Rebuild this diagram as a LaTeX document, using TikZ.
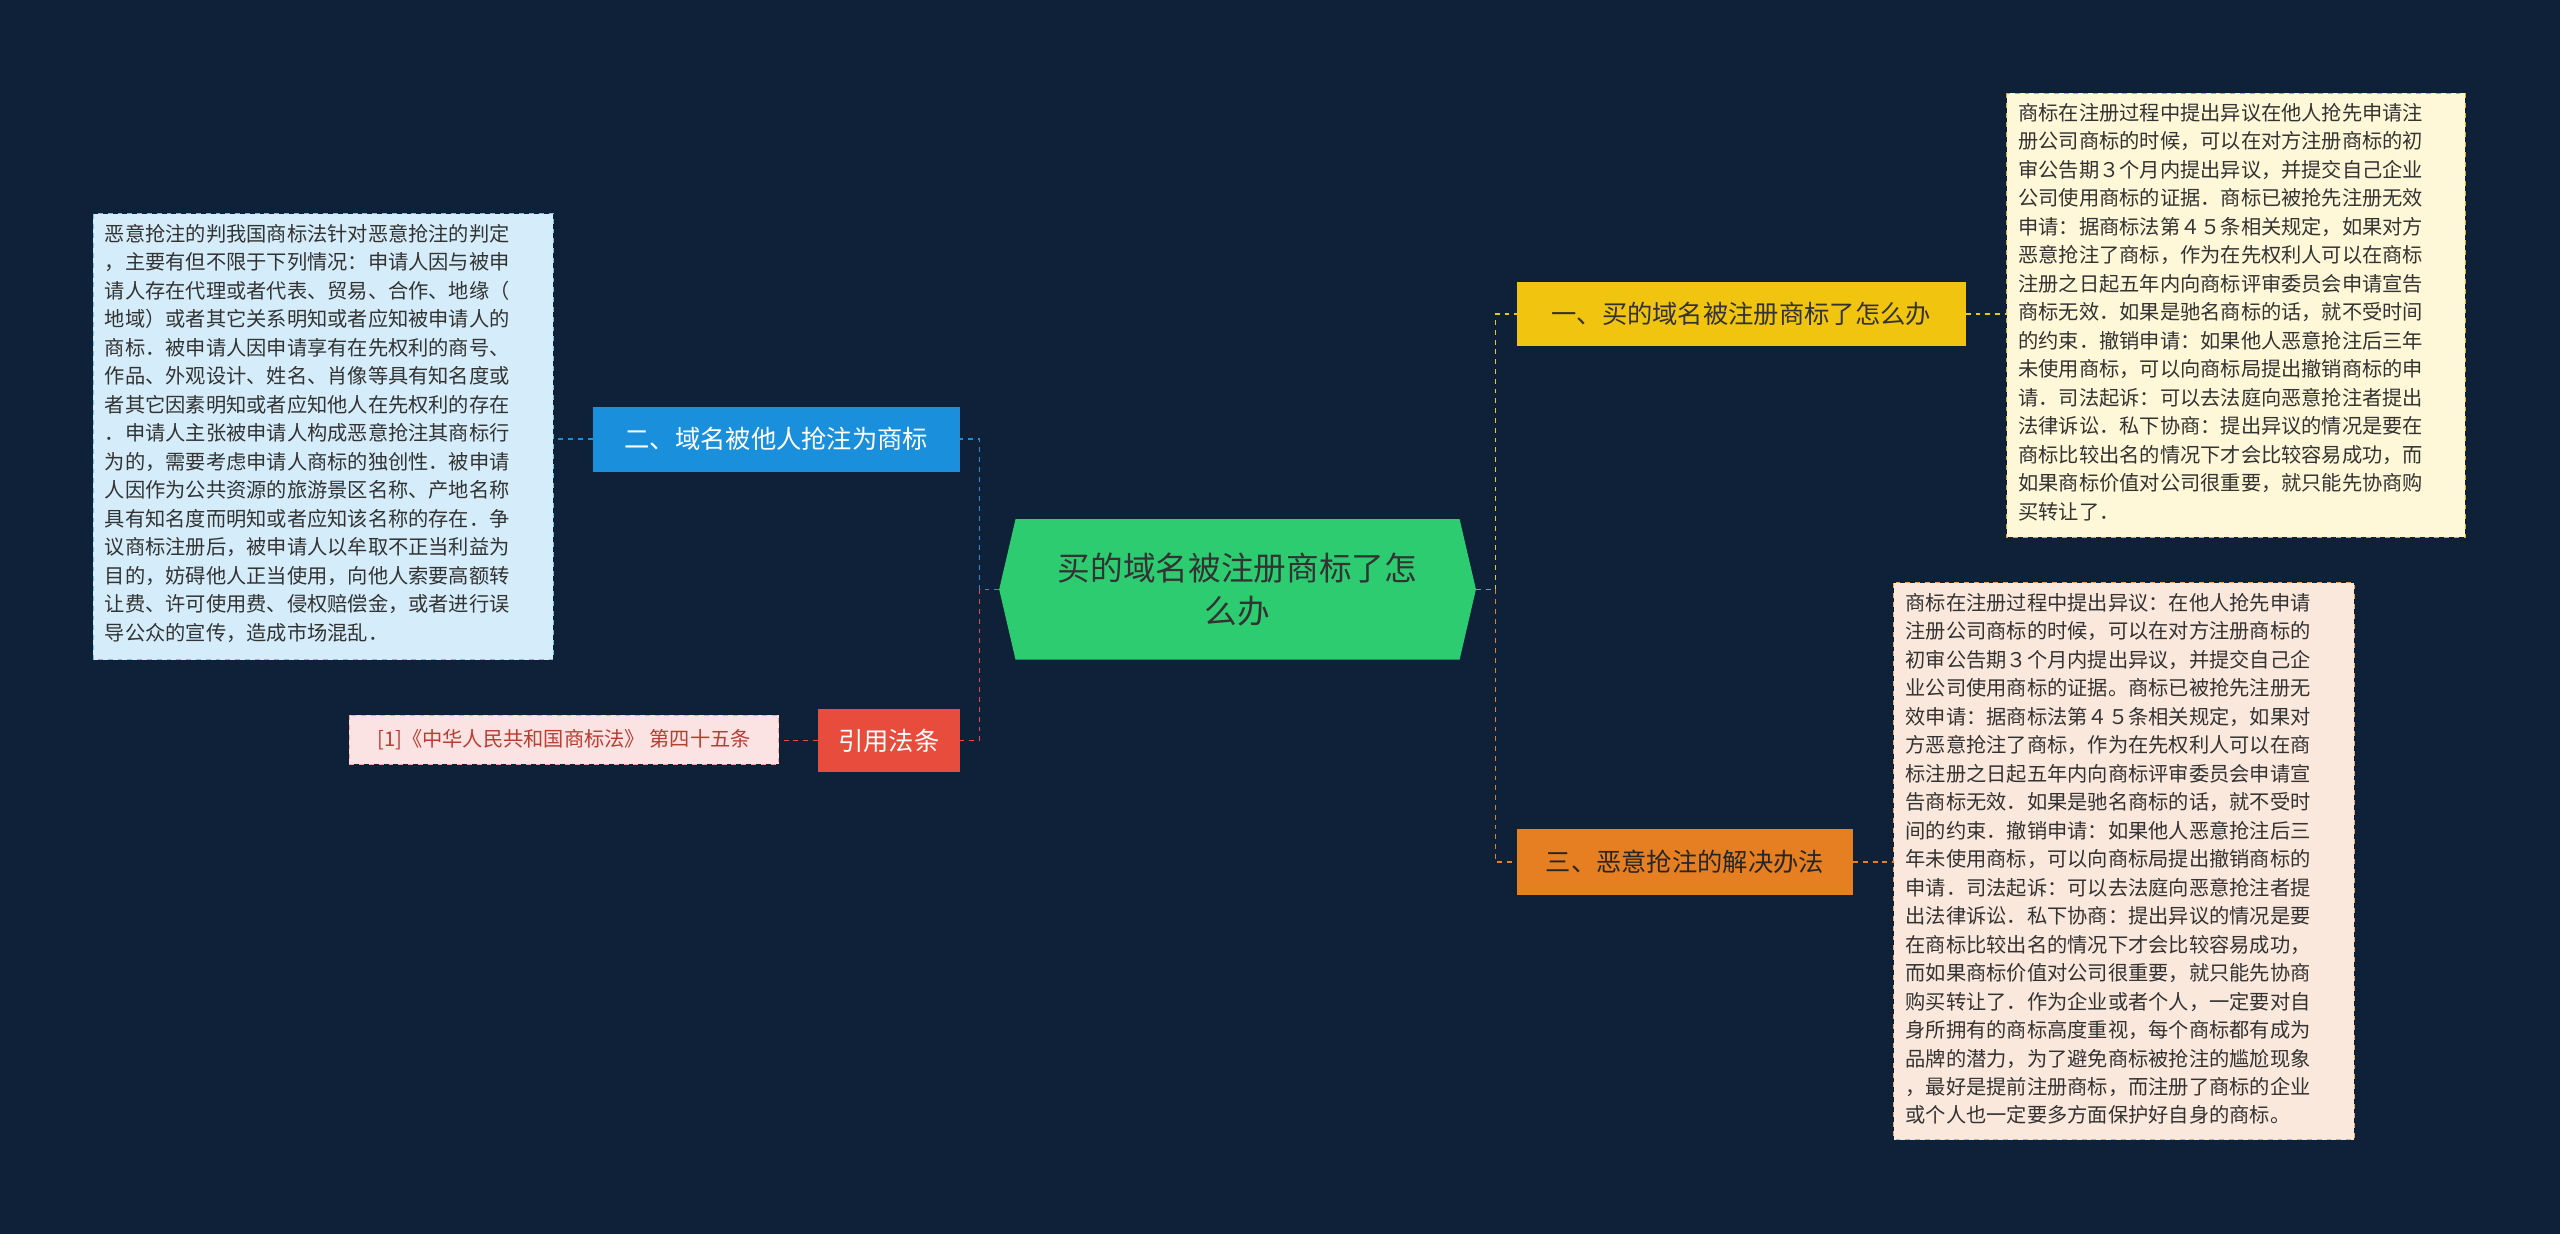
\documentclass[tikz,border=0pt]{standalone}
\usepackage{fontspec}
\setmainfont{Noto Sans CJK SC}
\usetikzlibrary{shapes.geometric}
\definecolor{bg}{HTML}{0E2139}
\definecolor{cgreen}{HTML}{2ECC71}
\definecolor{cyel}{HTML}{F1C40F}
\definecolor{corg}{HTML}{E67E22}
\definecolor{cblue}{HTML}{1A8FDB}
\definecolor{cred}{HTML}{E74C3C}
\definecolor{lyel}{HTML}{FEF8D8}
\definecolor{lorg}{HTML}{FBE8DC}
\definecolor{lblue}{HTML}{D5EDFA}
\definecolor{lred}{HTML}{FBE3E3}
\tikzset{x=1pt,y=-1pt,
 branch/.style={inner sep=0pt,font=\fontsize{15.5}{18}\selectfont},
 leaf/.style={inner sep=0pt,align=left,anchor=north west,font=\fontsize{12.4}{17.45}\selectfont,text=black!80},
 leafbox/.style={draw=#1,dashed,line width=0.6pt},
 conn/.style={dashed,line width=1pt,draw=#1}}
\begin{document}
\begin{tikzpicture}
\fill[bg] (0,0) rectangle (1568,756);
\useasboundingbox (0,0) rectangle (1568,756);
% center
\fill[cgreen] (612,361) -- (622,318) -- (894,318) -- (904,361) -- (894,404) -- (622,404) -- cycle;
\node[align=center,font=\fontsize{20}{26}\selectfont,text=black!80] (c) at (758,361) {买的域名被注册商标了怎\\么办};
\coordinate (cl) at (612,361); \coordinate (cr) at (904,361);
% branches
\fill[cyel] (929,173) rectangle (1204,212);
\node[branch,text=black!80] (b1) at (1066.5,192.5) {一、买的域名被注册商标了怎么办};
\fill[corg] (929,508) rectangle (1135,548);
\node[branch,text=black!85] (b3) at (1032,528) {三、恶意抢注的解决办法};
\fill[cblue] (363,249) rectangle (588,289);
\node[branch,text=white] (b2) at (475.5,269) {二、域名被他人抢注为商标};
\fill[cred] (501,434) rectangle (588,473);
\node[branch,text=white] (b4) at (544.5,453.5) {引用法条};
% leaves
\fill[lyel] (1229,57) rectangle (1510,329); \draw[leafbox=cyel!60!brown] (1229,57) rectangle (1510,329);
\node[leaf] (l1) at (1236,63) {商标在注册过程中提出异议在他人抢先申请注\\册公司商标的时候，可以在对方注册商标的初\\审公告期３个月内提出异议，并提交自己企业\\公司使用商标的证据．商标已被抢先注册无效\\申请：据商标法第４５条相关规定，如果对方\\恶意抢注了商标，作为在先权利人可以在商标\\注册之日起五年内向商标评审委员会申请宣告\\商标无效．如果是驰名商标的话，就不受时间\\的约束．撤销申请：如果他人恶意抢注后三年\\未使用商标，可以向商标局提出撤销商标的申\\请．司法起诉：可以去法庭向恶意抢注者提出\\法律诉讼．私下协商：提出异议的情况是要在\\商标比较出名的情况下才会比较容易成功，而\\如果商标价值对公司很重要，就只能先协商购\\买转让了．};
\fill[lorg] (1160,357) rectangle (1442,698); \draw[leafbox=corg!70] (1160,357) rectangle (1442,698);
\node[leaf] (l3) at (1167,363) {商标在注册过程中提出异议：在他人抢先申请\\注册公司商标的时候，可以在对方注册商标的\\初审公告期３个月内提出异议，并提交自己企\\业公司使用商标的证据。商标已被抢先注册无\\效申请：据商标法第４５条相关规定，如果对\\方恶意抢注了商标，作为在先权利人可以在商\\标注册之日起五年内向商标评审委员会申请宣\\告商标无效．如果是驰名商标的话，就不受时\\间的约束．撤销申请：如果他人恶意抢注后三\\年未使用商标，可以向商标局提出撤销商标的\\申请．司法起诉：可以去法庭向恶意抢注者提\\出法律诉讼．私下协商：提出异议的情况是要\\在商标比较出名的情况下才会比较容易成功，\\而如果商标价值对公司很重要，就只能先协商\\购买转让了．作为企业或者个人，一定要对自\\身所拥有的商标高度重视，每个商标都有成为\\品牌的潜力，为了避免商标被抢注的尴尬现象\\，最好是提前注册商标，而注册了商标的企业\\或个人也一定要多方面保护好自身的商标。};
\fill[lblue] (57,131) rectangle (339,404); \draw[leafbox=cblue!60] (57,131) rectangle (339,404);
\node[leaf] (l2) at (64,137) {恶意抢注的判我国商标法针对恶意抢注的判定\\，主要有但不限于下列情况：申请人因与被申\\请人存在代理或者代表、贸易、合作、地缘（\\地域）或者其它关系明知或者应知被申请人的\\商标．被申请人因申请享有在先权利的商号、\\作品、外观设计、姓名、肖像等具有知名度或\\者其它因素明知或者应知他人在先权利的存在\\．申请人主张被申请人构成恶意抢注其商标行\\为的，需要考虑申请人商标的独创性．被申请\\人因作为公共资源的旅游景区名称、产地名称\\具有知名度而明知或者应知该名称的存在．争\\议商标注册后，被申请人以牟取不正当利益为\\目的，妨碍他人正当使用，向他人索要高额转\\让费、许可使用费、侵权赔偿金，或者进行误\\导公众的宣传，造成市场混乱．};
\fill[lred] (214,438) rectangle (477,468); \draw[leafbox=cred!50] (214,438) rectangle (477,468);
\node[font=\fontsize{12.4}{15}\selectfont,text=cred!80!black] (l4) at (345.5,453) {[1]《中华人民共和国商标法》 第四十五条};
% connectors
\draw[conn=cyel] (cr) -- (916,361) |- (929,192.5);
\draw[conn=corg] (cr) -- (916,361) |- (929,528);
\draw[conn=cblue] (cl) -- (600,361) |- (588,269);
\draw[conn=cred] (cl) -- (600,361) |- (588,453.5);
\draw[conn=cyel] (1204,192.5) -- (1229,192.5);
\draw[conn=corg] (1135,528) -- (1160,528);
\draw[conn=cblue] (363,269) -- (339,269);
\draw[conn=cred] (501,453.5) -- (477,453.5);
\end{tikzpicture}
\end{document}
